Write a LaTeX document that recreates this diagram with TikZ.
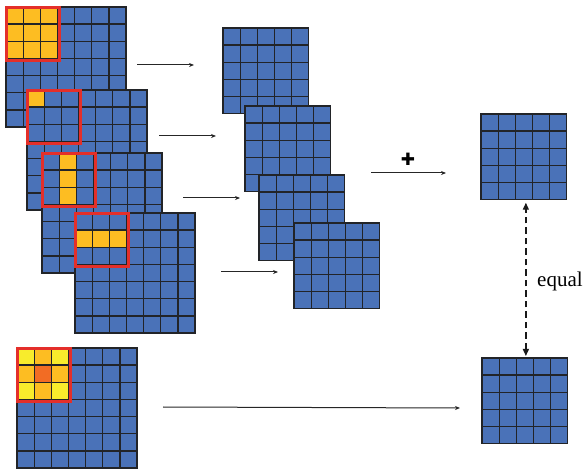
\documentclass[tikz,border=0pt]{standalone}
\usepackage{fontspec}
\setmainfont{Liberation Serif}
\newfontfamily\dejavu{DejaVu Sans}
\usetikzlibrary{arrows.meta}
\definecolor{cellblue}{HTML}{4A72B8}
\definecolor{gridcol}{HTML}{222428}
\definecolor{hlyellow}{HTML}{FDBD22}
\definecolor{hllight}{HTML}{F8EC2C}
\definecolor{hlorange}{HTML}{F26C24}
\definecolor{redcol}{HTML}{E42F2A}
\def\cs{17.15}
\tikzset{
  gridbox/.style={draw=gridcol, fill=cellblue, line width=1.3pt, inner sep=0pt, outer sep=0pt},
  gridline/.style={draw=gridcol, line width=1.3pt},
  redline/.style={draw=redcol, line width=2.8pt},
  conn/.style={draw=black!85, line width=1pt, -{Stealth[length=5pt,width=4pt]}},
  eqconn/.style={draw=black!90, line width=1.4pt, dash pattern=on 6.5pt off 4pt,
     {Triangle[length=7pt,width=6pt]}-{Triangle[length=7pt,width=6pt]}},
  lbl/.style={font=\fontsize{21}{24}\selectfont, inner sep=0pt}
}
% grid macro: name, x, y, n
\newcommand\gridat[4]{%
  \begin{scope}[shift={(#2,#3)}]
    \node[gridbox, minimum size=#4*\cs pt] (#1) at (#4*\cs/2,#4*\cs/2) {};
    \foreach \k in {0,...,#4}{
      \draw[gridline] (\k*\cs,0) -- (\k*\cs,#4*\cs);
      \draw[gridline] (0,\k*\cs) -- (#4*\cs,\k*\cs);
    }
  \end{scope}}
% highlight cell: x0, y0, color, i, j
\newcommand\hlcell[5]{%
  \draw[gridline, fill=#3] ({#1+#4*\cs},{#2+#5*\cs}) rectangle ({#1+(#4+1)*\cs},{#2+(#5+1)*\cs});}
\newcommand\redsq[2]{%
  \draw[redline] ({#1+0.7},{#2+0.7}) rectangle ({#1+3*\cs+2},{#2+3*\cs+2});}
\begin{document}
\begin{tikzpicture}[x=1pt,y=-1pt]
\useasboundingbox (0,0) rectangle (584,470);
% ---- stack of input grids ----
\gridat{g1}{6}{7}{7}
\foreach \i in {0,1,2}{\foreach \j in {0,1,2}{\hlcell{6}{7}{hlyellow}{\i}{\j}}}
\redsq{6}{7}
\gridat{g2}{27}{90}{7}
\hlcell{27}{90}{hlyellow}{0}{0}
\redsq{27}{90}
\gridat{g3}{42}{153}{7}
\foreach \j in {0,1,2}{\hlcell{42}{153}{hlyellow}{1}{\j}}
\redsq{42}{153}
\gridat{g4}{75}{213}{7}
\foreach \i in {0,1,2}{\hlcell{75}{213}{hlyellow}{\i}{1}}
\redsq{75}{213}
% ---- bottom input grid ----
\gridat{g5}{17}{348}{7}
\hlcell{17}{348}{hllight}{0}{0}
\hlcell{17}{348}{hlyellow}{1}{0}
\hlcell{17}{348}{hllight}{2}{0}
\hlcell{17}{348}{hlyellow}{0}{1}
\hlcell{17}{348}{hlorange}{1}{1}
\hlcell{17}{348}{hlyellow}{2}{1}
\hlcell{17}{348}{hllight}{0}{2}
\hlcell{17}{348}{hlyellow}{1}{2}
\hlcell{17}{348}{hllight}{2}{2}
\redsq{17}{348}
% ---- intermediate grids ----
\gridat{ma}{223}{28}{5}
\gridat{mb}{245}{106}{5}
\gridat{mc}{259}{175}{5}
\gridat{md}{294}{223}{5}
% ---- outputs ----
\gridat{oe}{481}{114}{5}
\gridat{of}{482}{358}{5}
% ---- arrows ----
\coordinate (a1s) at (137,65);  \coordinate (a1e) at (194,65);
\coordinate (a2s) at (159,136); \coordinate (a2e) at (216,136);
\coordinate (a3s) at (183,198); \coordinate (a3e) at (240,198);
\coordinate (a4s) at (221,272); \coordinate (a4e) at (278,272);
\coordinate (a5s) at (371,173); \coordinate (a5e) at (446,173);
\coordinate (a6s) at (163,407); \coordinate (a6e) at (460,408);
\draw[conn] (a1s) -- (a1e);
\draw[conn] (a2s) -- (a2e);
\draw[conn] (a3s) -- (a3e);
\draw[conn] (a4s) -- (a4e);
\draw[conn] (a5s) -- (a5e);
\draw[conn] (a6s) -- (a6e);
\node[inner sep=0pt, font=\dejavu\fontsize{17}{17}\selectfont] (plus) at (408,159) {✚};
\draw[eqconn] ([xshift=1pt,yshift=2pt]of.north) -- ([xshift=2pt,yshift=-3pt]oe.south);
\node[lbl, anchor=base west] (eq) at (537,287) {equal};
\end{tikzpicture}
\end{document}
